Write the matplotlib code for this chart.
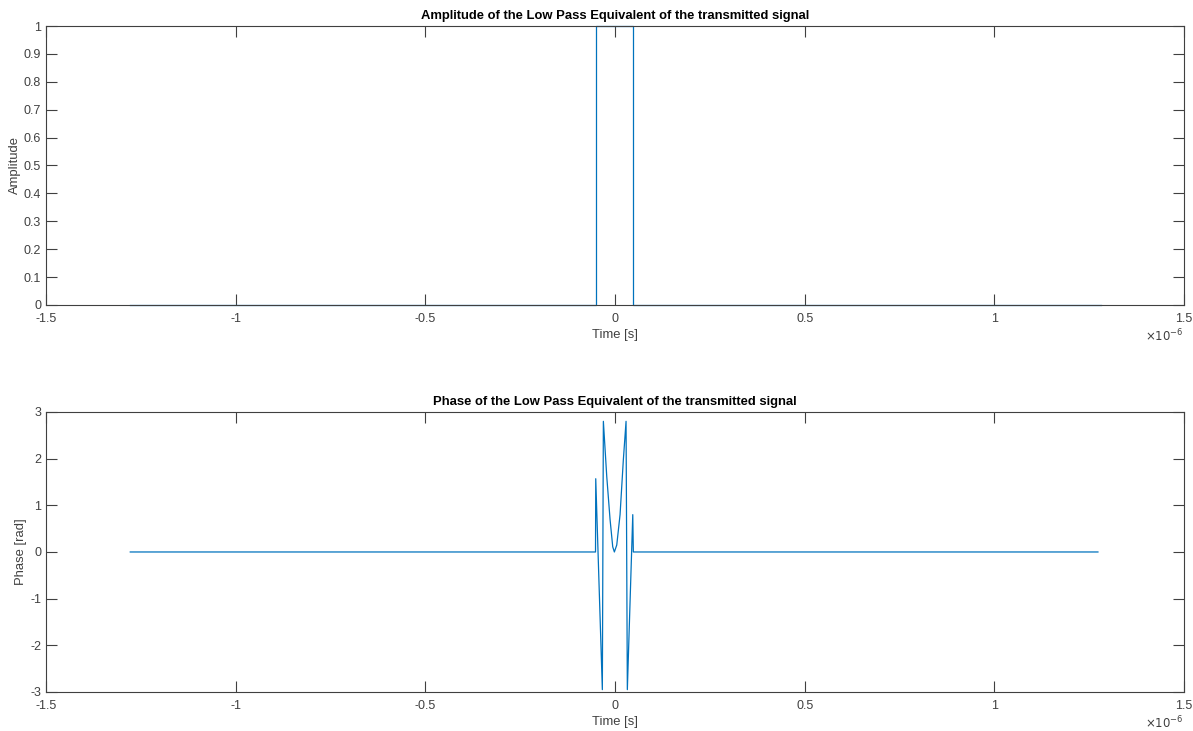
import matplotlib.pyplot as plt
import numpy as np

plt.rcParams['font.family'] = ['Liberation Sans', 'DejaVu Sans']
plt.rcParams['axes.unicode_minus'] = False

# amplitude of the low pass equivalent (time in microseconds)
t_amp = [-1.28, -0.051, -0.051, 0.046, 0.046, 1.28]
amp = [0, 0, 1, 1, 0, 0]

# phase of the low pass equivalent (time in microseconds)
t_ph = [-1.278, -0.0515, -0.0509, -0.0335, -0.0308, -0.0219, -0.0132, -0.0061,
        -0.0018, 0.0045, 0.0132, 0.0219, 0.029, 0.0324, 0.0467, 0.0482, 1.273]
phase = [0, 0, 1.57, -2.95, 2.80, 1.62, 0.70, 0.11,
         0.0, 0.15, 0.80, 1.98, 2.80, -2.95, 0.80, 0, 0]

xticks = [-1.5, -1, -0.5, 0, 0.5, 1, 1.5]
xtick_labels = ['-1.5', '-1', '-0.5', '0', '0.5', '1', '1.5']
amp_ticks = [0, 0.1, 0.2, 0.3, 0.4, 0.5, 0.6, 0.7, 0.8, 0.9, 1]
amp_tick_labels = ['0', '0.1', '0.2', '0.3', '0.4', '0.5', '0.6', '0.7', '0.8', '0.9', '1']
ph_ticks = [-3, -2, -1, 0, 1, 2, 3]

line_col = '#0072BD'
ax_col = '#404040'

fig = plt.figure(figsize=(11.93, 7.31), dpi=100)
ax1 = fig.add_axes([0.0386, 0.5828, 0.9539, 0.3816])
ax2 = fig.add_axes([0.0386, 0.0534, 0.9539, 0.383])


def style(ax):
    for s in ax.spines.values():
        s.set_color(ax_col)
        s.set_linewidth(0.8)
    ax.tick_params(direction='in', length=8, width=0.8, colors=ax_col,
                   labelsize=9, top=True, right=True)
    ax.tick_params(axis='x', pad=6)
    ax.set_xlim(-1.5e-6, 1.5e-6)
    ax.set_xticks(np.array(xticks) * 1e-6)
    ax.set_xticklabels(xtick_labels)
    ax.set_xlabel('Time [s]', fontsize=9.4, color=ax_col, labelpad=3)
    ax.text(1.0, -0.08, r'$\times10^{-6}$', transform=ax.transAxes,
            ha='right', va='top', fontsize=8.5, color=ax_col)


ax1.plot(np.array(t_amp) * 1e-6, amp, color=line_col, lw=0.9, clip_on=False)
style(ax1)
ax1.set_ylim(0, 1)
ax1.set_yticks(amp_ticks)
ax1.set_yticklabels(amp_tick_labels)
ax1.set_ylabel('Amplitude', fontsize=9.4, color=ax_col, labelpad=2)
ax1.set_title('Amplitude of the Low Pass Equivalent of the transmitted signal',
              fontsize=9.4, fontweight='bold', color='black', pad=5)

ax2.plot(np.array(t_ph) * 1e-6, phase, color=line_col, lw=0.9)
style(ax2)
ax2.set_ylim(-3, 3)
ax2.set_yticks(ph_ticks)
ax2.set_ylabel('Phase [rad]', fontsize=9.4, color=ax_col, labelpad=2)
ax2.set_title('Phase of the Low Pass Equivalent of the transmitted signal',
              fontsize=9.4, fontweight='bold', color='black', pad=5)

fig.savefig('out.png', dpi=100)
